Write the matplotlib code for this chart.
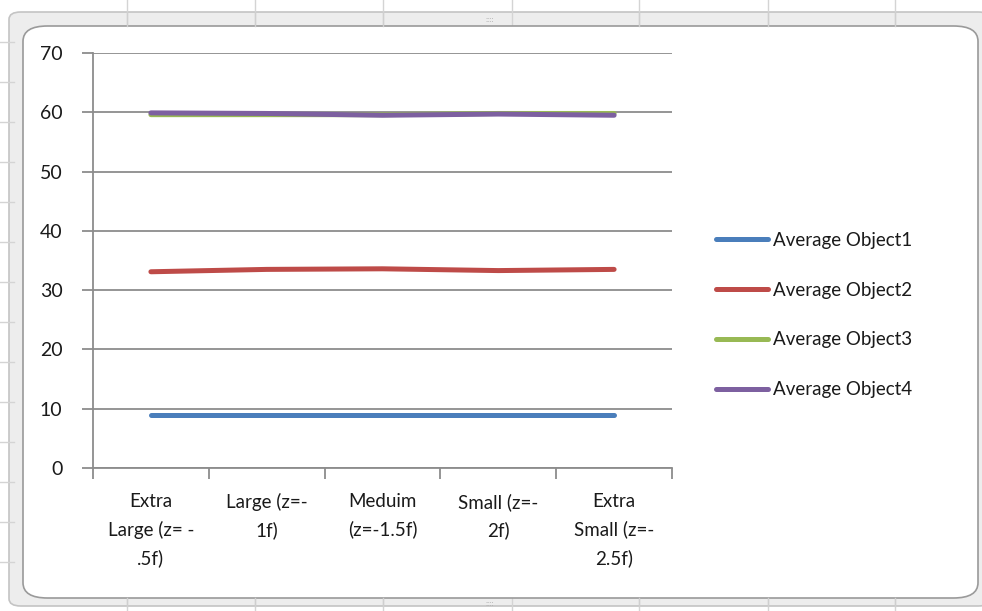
import matplotlib.pyplot as plt
from matplotlib.patches import FancyBboxPatch
from matplotlib.lines import Line2D

plt.rcParams['font.family'] = ['Lato', 'DejaVu Sans']

# Data
categories = ["Extra\nLarge (z= -\n.5f)", "Large (z=-\n1f)", "Meduim\n(z=-1.5f)",
              "Small (z=-\n2f)", "Extra\nSmall (z=-\n2.5f)"]
object1 = [8.9, 8.9, 8.9, 8.9, 8.9]
object2 = [33.1, 33.5, 33.6, 33.3, 33.5]
object3 = [59.6, 59.6, 59.6, 59.8, 59.8]
object4 = [59.9, 59.8, 59.5, 59.7, 59.5]
series_names = ["Average Object1", "Average Object2", "Average Object3", "Average Object4"]
series_colors = ["#4a7ebb", "#be4b48", "#98b954", "#7d60a0"]

W, H = 982, 611
fig = plt.figure(figsize=(W / 100, H / 100), dpi=100)
fig.patch.set_facecolor("white")


def fx(x):
    return x / W


def fy(y):
    return 1 - y / H


# worksheet grid behind the chart object
for x in [127, 255, 383, 512, 639, 768, 895]:
    fig.add_artist(Line2D([fx(x), fx(x)], [fy(0), fy(H)], color="#d4d4d4", lw=1))
for y in range(42, 600, 40):
    fig.add_artist(Line2D([fx(0), fx(14)], [fy(y), fy(y)], color="#d4d4d4", lw=1))

# chart frame
outer = FancyBboxPatch((fx(9), fy(606)), fx(990 - 9), (606 - 12) / H,
                       boxstyle="round,pad=0,rounding_size=0.012",
                       facecolor="#ededed", edgecolor="#c4c4c4", lw=1.2,
                       transform=fig.transFigure, zorder=1)
fig.add_artist(outer)
inner = FancyBboxPatch((fx(23), fy(598)), fx(978 - 23), (598 - 26) / H,
                       boxstyle="round,pad=0,rounding_size=0.025",
                       facecolor="white", edgecolor="#9a9a9a", lw=1.2,
                       transform=fig.transFigure, zorder=2)
fig.add_artist(inner)
for x in [127, 255, 383, 639, 768, 895]:
    fig.add_artist(Line2D([fx(x), fx(x)], [fy(12), fy(26)], color="#cfcfcf", lw=1, zorder=3))
    fig.add_artist(Line2D([fx(x), fx(x)], [fy(598), fy(606)], color="#cfcfcf", lw=1, zorder=3))
fig.text(fx(490), fy(19), "::::", color="#b0b0b0", fontsize=6, ha="center", va="center", zorder=3)
fig.text(fx(490), fy(603), "::::", color="#b0b0b0", fontsize=6, ha="center", va="center", zorder=3)

ax = fig.add_axes([fx(93), fy(468), fx(672 - 93), (468 - 53) / H], zorder=5)
ax.set_facecolor("none")

x = list(range(len(categories)))
for vals, name, col in zip([object1, object2, object3, object4], series_names, series_colors):
    ax.plot(x, vals, color=col, lw=3.6, solid_capstyle="round", label=name, zorder=3)

ax.set_xlim(-0.5, len(categories) - 0.5)
ax.set_ylim(0, 70)
ax.set_yticks(range(0, 71, 10))
ax.yaxis.grid(True, color="#8c8c8c", lw=1.3)
ax.set_axisbelow(True)

# category boundaries carry the tick marks, labels sit at the centres
ax.set_xticks([i - 0.5 for i in range(len(categories) + 1)])
ax.set_xticklabels([])
ax.set_xticks(x, minor=True)
ax.set_xticklabels(categories, minor=True, fontsize=13.5, color="#1a1a1a", linespacing=1.7, va="top")
ax.tick_params(axis="x", which="minor", length=0, pad=18)
ax.tick_params(axis="x", which="major", length=8, width=1.3, color="#8c8c8c")
ax.tick_params(axis="y", length=8, width=1.3, color="#8c8c8c", labelsize=14, labelcolor="#1a1a1a", pad=14)

for side in ["top", "right"]:
    ax.spines[side].set_visible(False)
for side in ["left", "bottom"]:
    ax.spines[side].set_color("#8c8c8c")
    ax.spines[side].set_linewidth(1.3)

leg = ax.legend(loc="center left", bbox_to_anchor=(fx(708 - 93) / fx(672 - 93), (468 - 315) / (468 - 53)),
                frameon=False, fontsize=13.5, handlelength=2.8, handletextpad=0.25,
                labelspacing=1.75, borderaxespad=0)
for t in leg.get_texts():
    t.set_color("#1a1a1a")

fig.savefig("out.png", dpi=100)
